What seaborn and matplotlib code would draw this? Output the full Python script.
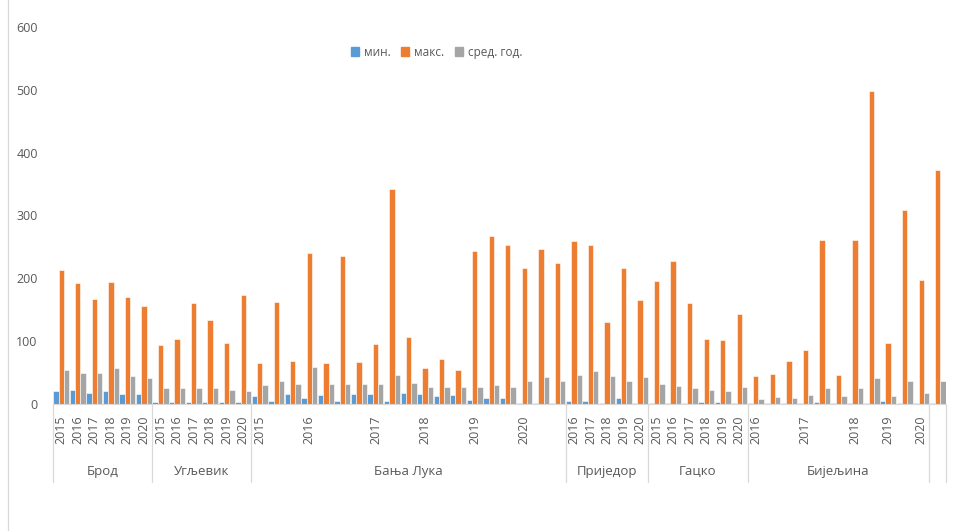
import pandas as pd
import seaborn as sns
import matplotlib.pyplot as plt
from matplotlib.lines import Line2D
from matplotlib.transforms import blended_transform_factory

sns.set_style('white')
plt.rcParams['font.family'] = ['Open Sans', 'DejaVu Sans']

# groups (cities) and their year labels along the axis
groups = ['Брод', 'Угљевик', 'Бања Лука', 'Приједор', 'Гацко', 'Бијељина', '']
years = [
    ['2015', '2016', '2017', '2018', '2019', '2020'],
    ['2015', '2016', '2017', '2018', '2019', '2020'],
    ['2015', '', '', '2016', '', '', '', '2017', '', '', '2018', '', '', '2019', '', '', '2020', '', ''],
    ['2016', '2017', '2018', '2019', '2020'],
    ['2015', '2016', '2017', '2018', '2019', '2020'],
    ['2016', '', '', '2017', '', '', '2018', '', '2019', '', '2020'],
    [''],
]

min_vals = [20, 22, 18, 20, 16, 16,
            3, 3, 3, 3, 3, 3,
            12, 4, 16, 9, 15, 5, 16, 16, 4, 18, 16, 12, 15, 7, 9, 9, 2, 2, 2,
            5, 5, 2, 9, 2,
            2, 2, 2, 3, 3, 2,
            1, 1, 1, 1, 3, 1, 1, 1, 5, 1, 1,
            1]
max_vals = [214, 192, 167, 194, 171, 156,
            94, 104, 160, 133, 97, 174,
            65, 162, 68, 241, 65, 236, 67, 95, 342, 106, 58, 72, 54, 243, 268, 253, 216, 246, 225,
            259, 253, 131, 216, 165,
            196, 228, 161, 104, 102, 144,
            45, 48, 68, 86, 261, 46, 261, 498, 97, 308, 198,
            373]
avg_vals = [54, 49, 50, 58, 45, 41,
            25, 25, 25, 25, 23, 20,
            30, 37, 32, 59, 32, 32, 32, 32, 46, 34, 27, 27, 27, 27, 30, 27, 37, 43, 37,
            46, 52, 45, 37, 43,
            32, 28, 25, 23, 20, 27,
            8, 11, 9, 15, 25, 12, 25, 41, 12, 37, 18,
            36]

series = ['мин.', 'макс.', 'сред. год.']
colors = ['#5B9BD5', '#ED7D31', '#A5A5A5']

year_labels = [y for g in years for y in g]
n = len(year_labels)
pos = list(range(n))

df = pd.DataFrame({
    'pos': pos * 3,
    'series': [series[0]] * n + [series[1]] * n + [series[2]] * n,
    'value': min_vals + max_vals + avg_vals,
})

fig = plt.figure(figsize=(9.55, 5.31), dpi=100)
ax = fig.add_axes([53 / 955, 1 - 404 / 531, 893 / 955, 377 / 531])

sns.barplot(data=df, x='pos', y='value', hue='series', hue_order=series,
            palette=colors, width=0.97, gap=0, edgecolor='white', linewidth=0.4,
            saturation=1, ax=ax, legend=False)

ax.set_xlim(-0.5, n - 0.5)
ax.set_ylim(0, 600)
ax.set_yticks(range(0, 601, 100))
ax.set_xlabel('')
ax.set_ylabel('')
ax.tick_params(axis='y', length=0, pad=11, labelsize=9, labelcolor='#595959')
ax.set_xticks(pos)
ax.set_xticklabels(year_labels, rotation=90, fontsize=9, color='#595959')
ax.tick_params(axis='x', length=0, pad=8)
for s in ['left', 'right', 'top']:
    ax.spines[s].set_visible(False)
ax.spines['bottom'].set_color('#D9D9D9')

# group separators and group names below the axis
trans = blended_transform_factory(ax.transData, ax.transAxes)
start = 0
bounds = [-0.5]
for g, ys in zip(groups, years):
    end = start + len(ys)
    bounds.append(end - 0.5)
    ax.text((start + end - 1) / 2, -0.18, g, transform=trans, ha='center', va='center',
            fontsize=9.5, color='#595959')
    start = end
for b in bounds:
    ax.add_line(Line2D([b, b], [0, -0.207], transform=trans, color='#D9D9D9',
                       lw=0.9, clip_on=False))

handles = [plt.Rectangle((0, 0), 1, 1, color=c) for c in colors]
fig.legend(handles, series, loc='center', bbox_to_anchor=(0.457, 0.902), ncol=3,
           frameon=False, fontsize=8.5, handlelength=0.7, handleheight=0.7,
           handletextpad=0.4, columnspacing=0.9, labelcolor='#595959')

fig.add_artist(Line2D([8 / 955, 8 / 955], [0, 1], transform=fig.transFigure,
                      color='#D9D9D9', lw=0.9))

fig.savefig('out.png', dpi=100)
